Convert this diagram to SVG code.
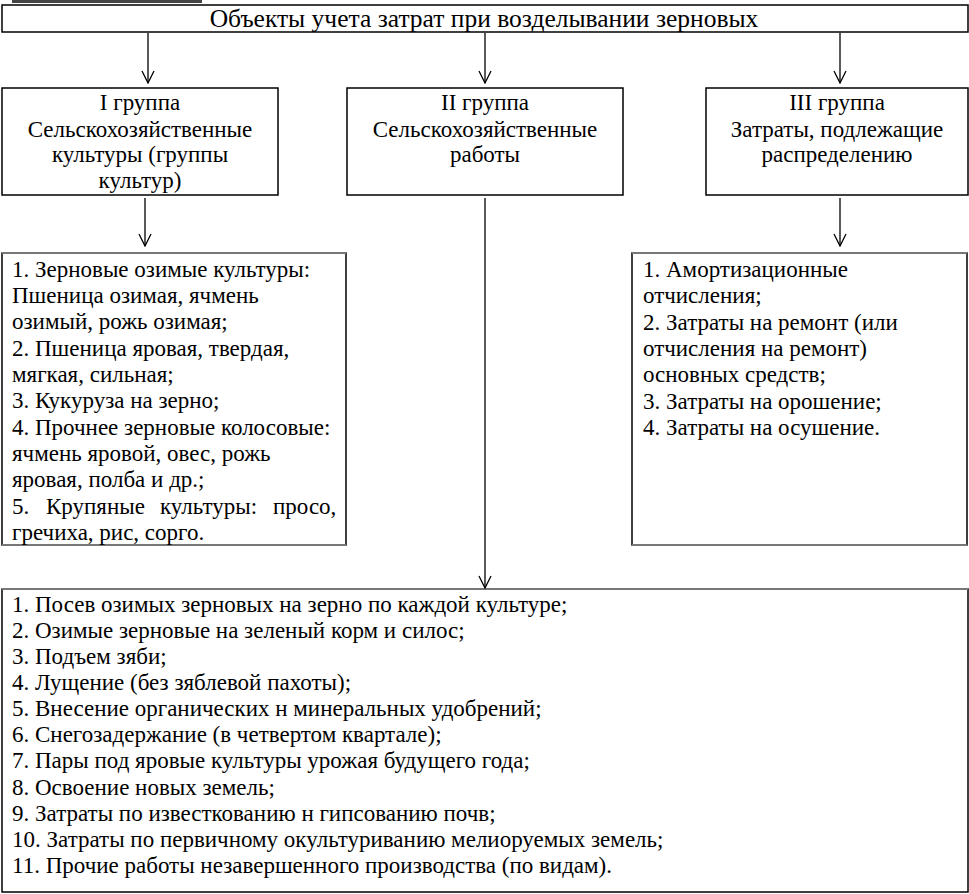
<svg xmlns="http://www.w3.org/2000/svg" width="969" height="894" viewBox="0 0 969 894">
<style>
.box{fill:#fff;stroke:#000;stroke-width:1.5}
.edge{stroke:#777;stroke-width:2}
.t{font-family:"Liberation Serif","Times New Roman",serif;font-size:23px;fill:#000}
.c{text-anchor:middle}
.title{font-size:25.5px}
.conn{stroke:#000;stroke-width:1.3;fill:none}
</style>
<defs>
<marker id="arr" markerUnits="userSpaceOnUse" viewBox="0 0 14 14" refX="13" refY="7" markerWidth="14" markerHeight="14" orient="auto">
<path d="M1,1 L13,7 L1,13" fill="none" stroke="#000" stroke-width="1.3"/>
</marker>
</defs>
<rect x="12" y="0" width="190" height="3" fill="#444"/>
<g id="title">
<rect class="box" x="2" y="5" width="966" height="27"/>
<text class="t c title" x="484" y="27">Объекты учета затрат при возделывании  зерновых</text>
</g>
<g id="group1">
<rect class="box" x="2" y="88" width="276" height="107"/>
<text class="t c" x="140" y="110">I группа</text>
<text class="t c" x="140" y="137">Сельскохозяйственные</text>
<text class="t c" x="140" y="162">культуры (группы</text>
<text class="t c" x="140" y="188">культур)</text>
</g>
<g id="group2">
<rect class="box" x="347" y="88" width="276" height="107"/>
<text class="t c" x="485" y="110">II группа</text>
<text class="t c" x="485" y="137">Сельскохозяйственные</text>
<text class="t c" x="485" y="162">работы</text>
</g>
<g id="group3">
<rect class="box" x="706" y="88" width="262" height="107"/>
<text class="t c" x="837" y="110">III группа</text>
<text class="t c" x="837" y="137">Затраты, подлежащие</text>
<text class="t c" x="837" y="162">распределению</text>
</g>
<g id="list1">
<rect class="box" x="2" y="253" width="344" height="292"/>
<line class="edge" x1="2" y1="253" x2="346" y2="253"/>
<line class="edge" x1="2" y1="545" x2="346" y2="545"/>
<text class="t" x="12" y="277">1. Зерновые озимые культуры:</text>
<text class="t" x="12" y="303">Пшеница озимая, ячмень</text>
<text class="t" x="12" y="329">озимый, рожь озимая;</text>
<text class="t" x="12" y="356">2. Пшеница яровая, твердая,</text>
<text class="t" x="12" y="382">мягкая, сильная;</text>
<text class="t" x="12" y="408">3. Кукуруза на зерно;</text>
<text class="t" x="12" y="435">4. Прочнее зерновые колосовые:</text>
<text class="t" x="12" y="461">ячмень яровой, овес, рожь</text>
<text class="t" x="12" y="487">яровая, полба и др.;</text>
<text class="t" y="514"><tspan x="12">5.</tspan><tspan x="46">Крупяные</tspan><tspan x="160">культуры:</tspan><tspan x="273">просо,</tspan></text>
<text class="t" x="12" y="540">гречиха, рис, сорго.</text>
</g>
<g id="list3">
<rect class="box" x="632" y="253" width="335" height="292"/>
<line class="edge" x1="632" y1="253" x2="967" y2="253"/>
<line class="edge" x1="632" y1="545" x2="967" y2="545"/>
<text class="t" x="643" y="277">1. Амортизационные</text>
<text class="t" x="643" y="303">отчисления;</text>
<text class="t" x="643" y="330">2. Затраты на ремонт (или</text>
<text class="t" x="643" y="356">отчисления на ремонт)</text>
<text class="t" x="643" y="382">основных средств;</text>
<text class="t" x="643" y="409">3. Затраты на орошение;</text>
<text class="t" x="643" y="435">4. Затраты на осушение.</text>
</g>
<g id="list2">
<rect class="box" x="2" y="589" width="966" height="303"/>
<line class="edge" x1="2" y1="589" x2="968" y2="589"/>
<text class="t" x="12" y="612">1. Посев озимых зерновых на зерно по каждой культуре;</text>
<text class="t" x="12" y="638">2. Озимые зерновые на зеленый корм и силос;</text>
<text class="t" x="12" y="664">3. Подъем зяби;</text>
<text class="t" x="12" y="690">4. Лущение (без зяблевой пахоты);</text>
<text class="t" x="12" y="716">5. Внесение органических н минеральных удобрений;</text>
<text class="t" x="12" y="742">6. Снегозадержание (в четвертом квартале);</text>
<text class="t" x="12" y="768">7. Пары под яровые культуры урожая будущего года;</text>
<text class="t" x="12" y="795">8. Освоение новых земель;</text>
<text class="t" x="12" y="821">9. Затраты по известкованию н гипсованию почв;</text>
<text class="t" x="12" y="847">10. Затраты по первичному окультуриванию мелиоруемых земель;</text>
<text class="t" x="12" y="873">11. Прочие работы незавершенного производства (по видам).</text>
</g>
<g id="connectors">
<line class="conn" x1="148" y1="33" x2="148" y2="83" marker-end="url(#arr)"/>
<line class="conn" x1="485" y1="33" x2="485" y2="83" marker-end="url(#arr)"/>
<line class="conn" x1="840" y1="33" x2="840" y2="83" marker-end="url(#arr)"/>
<line class="conn" x1="145" y1="198" x2="145" y2="246" marker-end="url(#arr)"/>
<line class="conn" x1="840" y1="198" x2="840" y2="246" marker-end="url(#arr)"/>
<line class="conn" x1="485" y1="198" x2="485" y2="588" marker-end="url(#arr)"/>
</g>
</svg>
